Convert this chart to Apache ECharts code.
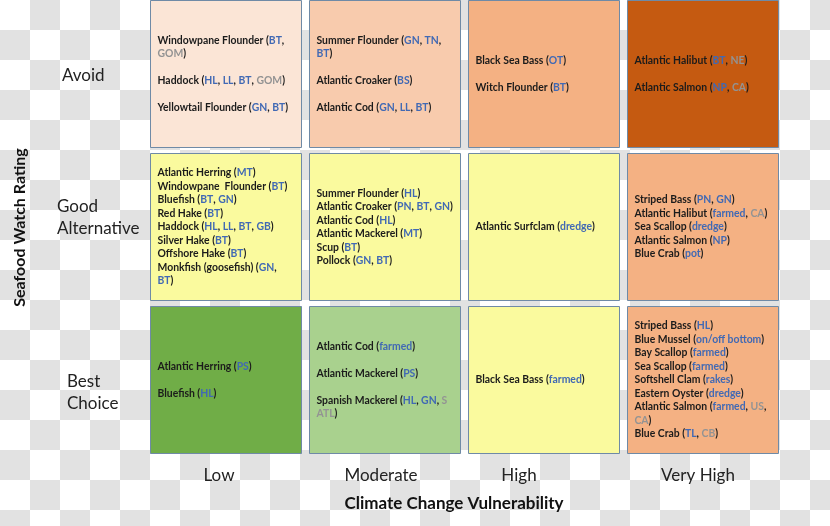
<!DOCTYPE html>
<html><head><meta charset="utf-8">
<script src="https://cdn.jsdelivr.net/npm/echarts@6/dist/echarts.min.js"></script>
<style>
html,body{margin:0;padding:0;}
#c{width:830px;height:526px;background-image:repeating-conic-gradient(#e2e2e2 0 25%, #ffffff 0 50%);background-size:60px 60px;}
</style></head><body><div id="c"></div>
<script>
// ---- data ----
const vulnerability = ['Low', 'Moderate', 'High', 'Very High'];
const ratings = ['Best\nChoice', 'Good\nAlternative', 'Avoid']; // bottom -> top
const xAxisTitle = 'Climate Change Vulnerability';
const yAxisTitle = 'Seafood Watch Rating';

// ^x^ = gear code (blue), ~x~ = region code (grey)
const avoid = [
  'Windowpane Flounder (^BT^,\n~GOM~)\n\nHaddock (^HL^, ^LL^, ^BT^, ~GOM~)\n\nYellowtail Flounder (^GN^, ^BT^)',
  'Summer Flounder (^GN^, ^TN^,\n^BT^)\n\nAtlantic Croaker (^BS^)\n\nAtlantic Cod (^GN^, ^LL^, ^BT^)',
  'Black Sea Bass (^OT^)\n\nWitch Flounder (^BT^)',
  'Atlantic Halibut (^BT^, ~NE~)\n\nAtlantic Salmon (^NP^, ~CA~)'
];
const goodAlternative = [
  'Atlantic Herring (^MT^)\nWindowpane  Flounder (^BT^)\nBluefish (^BT^, ^GN^)\nRed Hake (^BT^)\nHaddock (^HL^, ^LL^, ^BT^, ^GB^)\nSilver Hake (^BT^)\nOffshore Hake (^BT^)\nMonkfish (goosefish) (^GN^,\n^BT^)',
  'Summer Flounder (^HL^)\nAtlantic Croaker (^PN^, ^BT^, ^GN^)\nAtlantic Cod (^HL^)\nAtlantic Mackerel (^MT^)\nScup (^BT^)\nPollock (^GN^, ^BT^)',
  'Atlantic Surfclam (^dredge^)',
  'Striped Bass (^PN^, ^GN^)\nAtlantic Halibut (^farmed^, ~CA~)\nSea Scallop (^dredge^)\nAtlantic Salmon (^NP^)\nBlue Crab (^pot^)'
];
const bestChoice = [
  'Atlantic Herring (^PS^)\n\nBluefish (^HL^)',
  'Atlantic Cod (^farmed^)\n\nAtlantic Mackerel (^PS^)\n\nSpanish Mackerel (^HL^, ^GN^, ~S~\n~ATL~)',
  'Black Sea Bass (^farmed^)',
  'Striped Bass (^HL^)\nBlue Mussel (^on/off bottom^)\nBay Scallop (^farmed^)\nSea Scallop (^farmed^)\nSoftshell Clam (^rakes^)\nEastern Oyster (^dredge^)\nAtlantic Salmon (^farmed^, ~US~,\n~CA~)\nBlue Crab (^TL^, ~CB~)'
];

// ---- styles ----
const FONT = 'Lato, "Open Sans", sans-serif';
const fills = [
  ['#70ad47', '#a9d18e', '#fafa9e', '#f4b183'], // Best Choice
  ['#fafa9e', '#fafa9e', '#fafa9e', '#f4b183'], // Good Alternative
  ['#fbe5d6', '#f8cbad', '#f4b183', '#c55a11']  // Avoid
];
const rows = [bestChoice, goodAlternative, avoid];

function toRich(s) {
  return s.split('\n').map(function (line) {
    return line.replace(/\^([^\^]+)\^/g, '{b|$1}').replace(/~([^~]+)~/g, '{g|$1}');
  }).join('\n');
}

const cellData = [];
rows.forEach(function (row, yi) {
  row.forEach(function (txt, xi) {
    cellData.push([xi, yi, toRich(txt)]);
  });
});

const cellFont = { fontFamily: FONT, fontSize: 10.4, fontWeight: 'bold', lineHeight: 13.5 };
const richCell = {
  b: Object.assign({ fill: '#4169b4' }, cellFont),
  g: Object.assign({ fill: '#939393' }, cellFont)
};

const chart = echarts.init(document.getElementById('c'), null, { renderer: 'canvas' });
const xPad = [[0, 13, 0, 0], [0, 7, 0, 0], [0, 49, 0, 0], [0, 9, 0, 0]];
chart.setOption({
  backgroundColor: 'transparent',
  animation: false,
  grid: { left: 146, right: 48, top: 0, bottom: 67, containLabel: false },
  xAxis: {
    type: 'category', data: vulnerability,
    axisLine: { show: false }, axisTick: { show: false }, splitLine: { show: false },
    axisLabel: {
      margin: 8, fontSize: 17, fontFamily: FONT, color: '#222',
      formatter: function (v, i) { return '{x' + i + '|' + v + '}'; },
      rich: {
        x0: { padding: xPad[0], fontSize: 17, fontFamily: FONT, color: '#222' },
        x1: { padding: xPad[1], fontSize: 17, fontFamily: FONT, color: '#222' },
        x2: { padding: xPad[2], fontSize: 17, fontFamily: FONT, color: '#222' },
        x3: { padding: xPad[3], fontSize: 17, fontFamily: FONT, color: '#222' }
      }
    },
    name: xAxisTitle, nameLocation: 'middle', nameGap: 36,
    nameTextStyle: { fontFamily: FONT, fontSize: 17, fontWeight: 'bold', color: '#111', padding: [0, 20, 0, 0] }
  },
  yAxis: {
    type: 'category', data: ratings,
    axisLine: { show: false }, axisTick: { show: false }, splitLine: { show: false },
    axisLabel: {
      margin: 89, align: 'left', fontSize: 17, fontFamily: FONT, color: '#222', lineHeight: 22,
      padding: [0, 0, 2, 0],
      formatter: function (v, i) {
        if (i === 2) return '{p5|' + v + '}';
        if (i === 1) return v.split('\n').map(function (l) { return '{p0|' + l + '}'; }).join('\n') + '\n ';
        return ' \n' + v.split('\n').map(function (l) { return '{p10|' + l + '}'; }).join('\n');
      },
      rich: {
        p0: { padding: [0, 0, 0, 0], fontSize: 17, fontFamily: FONT, color: '#222', lineHeight: 22 },
        p5: { padding: [0, 0, 0, 5], fontSize: 17, fontFamily: FONT, color: '#222', lineHeight: 22 },
        p10: { padding: [0, 0, 0, 10], fontSize: 17, fontFamily: FONT, color: '#222', lineHeight: 22 }
      }
    },
    name: yAxisTitle, nameLocation: 'middle', nameRotate: 90, nameGap: 118,
    nameTextStyle: { fontFamily: FONT, fontSize: 16, fontWeight: 'bold', color: '#111', padding: [0, 0, 0, 4] }
  },
  series: [{
    type: 'custom',
    encode: { x: 0, y: 1 },
    data: cellData,
    renderItem: function (params, api) {
      const c = api.coord([api.value(0), api.value(1)]);
      const s = api.size([1, 1]);
      const w = s[0] - 8, h = s[1] - 6;
      const d = cellData[params.dataIndex];
      const x0 = Math.round(c[0] - w / 2) + 0.5;
      const y0 = Math.round(c[1] - s[1] / 2) + 0.5; // gap below each cell
      const cy = y0 + h / 2;
      return {
        type: 'group',
        children: [
          { type: 'rect', shape: { x: x0, y: y0, width: Math.round(w), height: Math.round(h) },
            style: { fill: fills[d[1]][d[0]], stroke: '#6f8aa6', lineWidth: 1 } },
          { type: 'text', x: x0 + 7, y: cy,
            style: Object.assign({ text: d[2], align: 'left', verticalAlign: 'middle', fill: '#1b1b1b', rich: richCell }, cellFont) }
        ]
      };
    }
  }]
});
</script></body></html>
